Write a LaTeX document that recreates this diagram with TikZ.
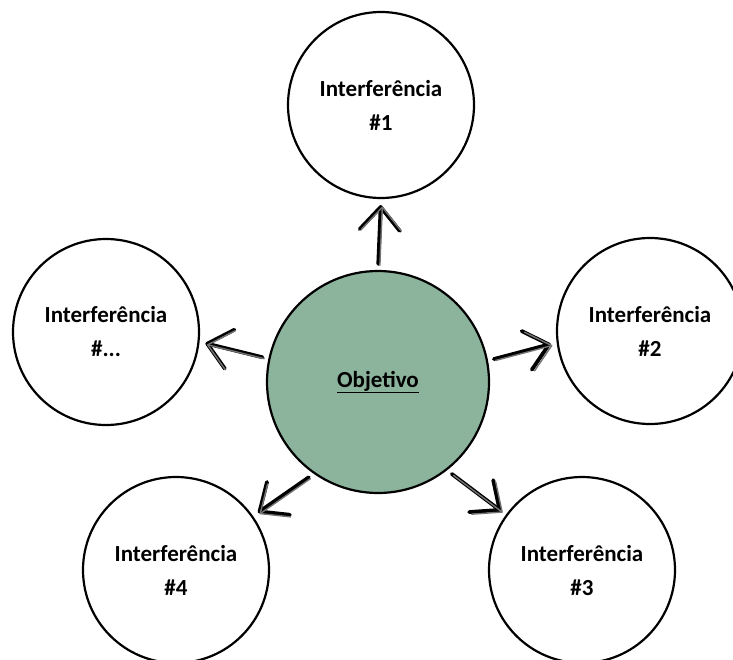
\documentclass[tikz,border=0pt]{standalone}
\usepackage{fontspec}
\setmainfont{Carlito}
\usetikzlibrary{arrows.meta}
\definecolor{objgreen}{RGB}{140,179,156}
\begin{document}
\begin{tikzpicture}[x=1pt,y=-1pt,
  bubble/.style={circle,draw=black,line width=2.2pt,fill=white,minimum size=186pt,inner sep=0pt,
    align=center,font=\fontsize{23}{34}\selectfont\bfseries},
  centre/.style={bubble,fill=objgreen,minimum size=222pt},
  sketch/.style={line width=3.8pt,draw=black,line cap=round,
    -{Straight Barb[length=23pt,width=40pt,line cap=round,line join=round]},shorten <=6pt,shorten >=6pt},
  sketchb/.style={sketch,line width=1.4pt,draw=black!55,transform canvas={shift={(1.6pt,-1.4pt)}}}]
\useasboundingbox (0,0) rectangle (733,659);
\clip (0,0) rectangle (733,659);
\node[centre] (c) at (378,382) {\underline{Objetivo}};
\node[bubble] (n1) at (381,105) {Interferência\\\#1};
\node[bubble] (n2) at (650,331) {Interferência\\\#2};
\node[bubble] (n3) at (582,570) {Interferência\\\#3};
\node[bubble] (n4) at (176,570) {Interferência\\\#4};
\node[bubble] (n5) at (106,332) {Interferência\\\#...};
\draw[sketch] (c.90) -- (n1.-90);
\draw[sketch] (c.11) -- (n2.-173);
\draw[sketch] (c.-52) -- (n3.144);
\draw[sketch] (c.-125) -- (n4.35);
\draw[sketch] (c.168) -- (n5.-6);
\draw[sketchb] (c.90) -- (n1.-90);
\draw[sketchb] (c.11) -- (n2.-173);
\draw[sketchb] (c.-52) -- (n3.144);
\draw[sketchb] (c.-125) -- (n4.35);
\draw[sketchb] (c.168) -- (n5.-6);
\end{tikzpicture}
\end{document}
